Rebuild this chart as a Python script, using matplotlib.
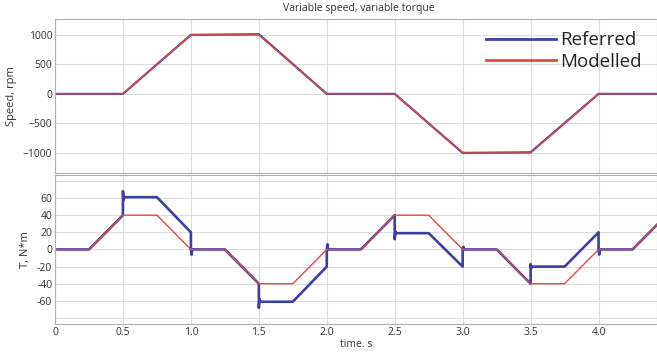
import matplotlib
matplotlib.use("Agg")
import matplotlib.pyplot as plt
import numpy as np

# ---- data ----
speed_t = [0.0, 0.5, 1.0, 1.5, 2.0, 2.5, 3.0, 3.5, 4.0, 4.45]
speed_ref = [0, 0, 1000, 1010, 0, 0, -1000, -990, 0, 0]
speed_mod = [0, 0, 1000, 1000, 0, 0, -1000, -1000, 0, 0]

torque_mod_t = [0.0, 0.25, 0.5, 0.75, 1.0, 1.25, 1.5, 1.75, 2.0, 2.25, 2.5, 2.75,
                3.0, 3.25, 3.5, 3.75, 4.0, 4.25, 4.45]
torque_mod = [0, 0, 40, 40, 0, 0, -40, -40, 0, 0, 40, 40, 0, 0, -40, -40, 0, 0, 32]

torque_ref_t = [0.0, 0.25, 0.5, 0.5, 0.505, 0.51, 0.75, 1.0, 1.0, 1.005, 1.01, 1.25,
                1.5, 1.5, 1.505, 1.51, 1.75, 2.0, 2.0, 2.005, 2.01, 2.25,
                2.5, 2.5, 2.505, 2.51, 2.75, 3.0, 3.0, 3.005, 3.01, 3.25,
                3.5, 3.5, 3.505, 3.51, 3.75, 4.0, 4.0, 4.005, 4.01, 4.25, 4.45]
torque_ref = [0, 0, 40, 68, 58, 61, 61, 20, 0, -6, 0, 0,
              -40, -68, -58, -61, -61, -20, 0, 6, 0, 0,
              40, 12, 21, 19, 19, -20, 0, 3, 0, 0,
              -40, -17, -22, -20, -20, 20, 0, -6, 0, 0, 32]

speed_yticks = [-1000, -500, 0, 500, 1000]
torque_grid = [-80, -60, -40, -20, 0, 20, 40, 60, 80]
torque_labels = ['', '-60', '-40', '-20', '0', '20', '40', '60', '']
x_ticks = [0, 0.5, 1.0, 1.5, 2.0, 2.5, 3.0, 3.5, 4.0]
x_labels = ['0', '0.5', '1.0', '1.5', '2.0', '2.5', '3.0', '3.5', '4.0']

BLUE = '#3b3fa6'
RED = '#e8473e'
GRID = '#dcdcdc'
TXT = '#333333'

plt.rcParams['font.family'] = ['Open Sans', 'DejaVu Sans']

fig = plt.figure(figsize=(6.57, 3.55), dpi=100)
ax1 = fig.add_axes([0.0837, 0.5127, 0.9163, 0.434])
ax2 = fig.add_axes([0.0837, 0.0873, 0.9163, 0.42])

for ax in (ax1, ax2):
    ax.set_xlim(0, 4.43)
    ax.set_xticks(x_ticks)
    ax.grid(True, color=GRID, linewidth=0.8)
    ax.set_axisbelow(True)
    for s in ax.spines.values():
        s.set_color('#b0b0b0')
        s.set_linewidth(0.8)
    ax.tick_params(axis='both', length=0, colors=TXT, labelsize=7.5, pad=2)

ax1.plot(speed_t, speed_ref, color=BLUE, lw=1.6, label='Referred')
ax1.plot(speed_t, speed_mod, color=RED, lw=1.0, label='Modelled')
ax1.set_ylim(-1340, 1270)
ax1.set_yticks(speed_yticks)
ax1.set_xticklabels([])
ax1.set_ylabel('Speed, rpm', fontsize=8, color=TXT, labelpad=4)
fig.text(0.546, 1 - 8.5 / 355, 'Variable speed, variable torque', fontsize=7.5,
         color=TXT, ha='center', va='center')
leg = ax1.legend(loc='upper right', bbox_to_anchor=(0.975, 0.92), frameon=False,
                 fontsize=13.5, handlelength=3.7, handletextpad=0.25,
                 labelspacing=0.2, borderaxespad=0.0, borderpad=0.0)
for t in leg.get_texts():
    t.set_color('#222222')
for l in leg.get_lines():
    l.set_linewidth(2.0)

ax2.plot(torque_ref_t, torque_ref, color=BLUE, lw=1.9)
ax2.plot(torque_mod_t, torque_mod, color=RED, lw=1.0)
ax2.set_ylim(-87, 87)
ax2.set_yticks(torque_grid)
ax2.set_yticklabels(torque_labels)
ax2.set_xticklabels(x_labels)
ax2.set_ylabel('T, N*m', fontsize=8, color=TXT, labelpad=4)
ax2.set_xlabel('time. s', fontsize=7.5, color=TXT, labelpad=1)

fig.savefig('out.png', dpi=100)
